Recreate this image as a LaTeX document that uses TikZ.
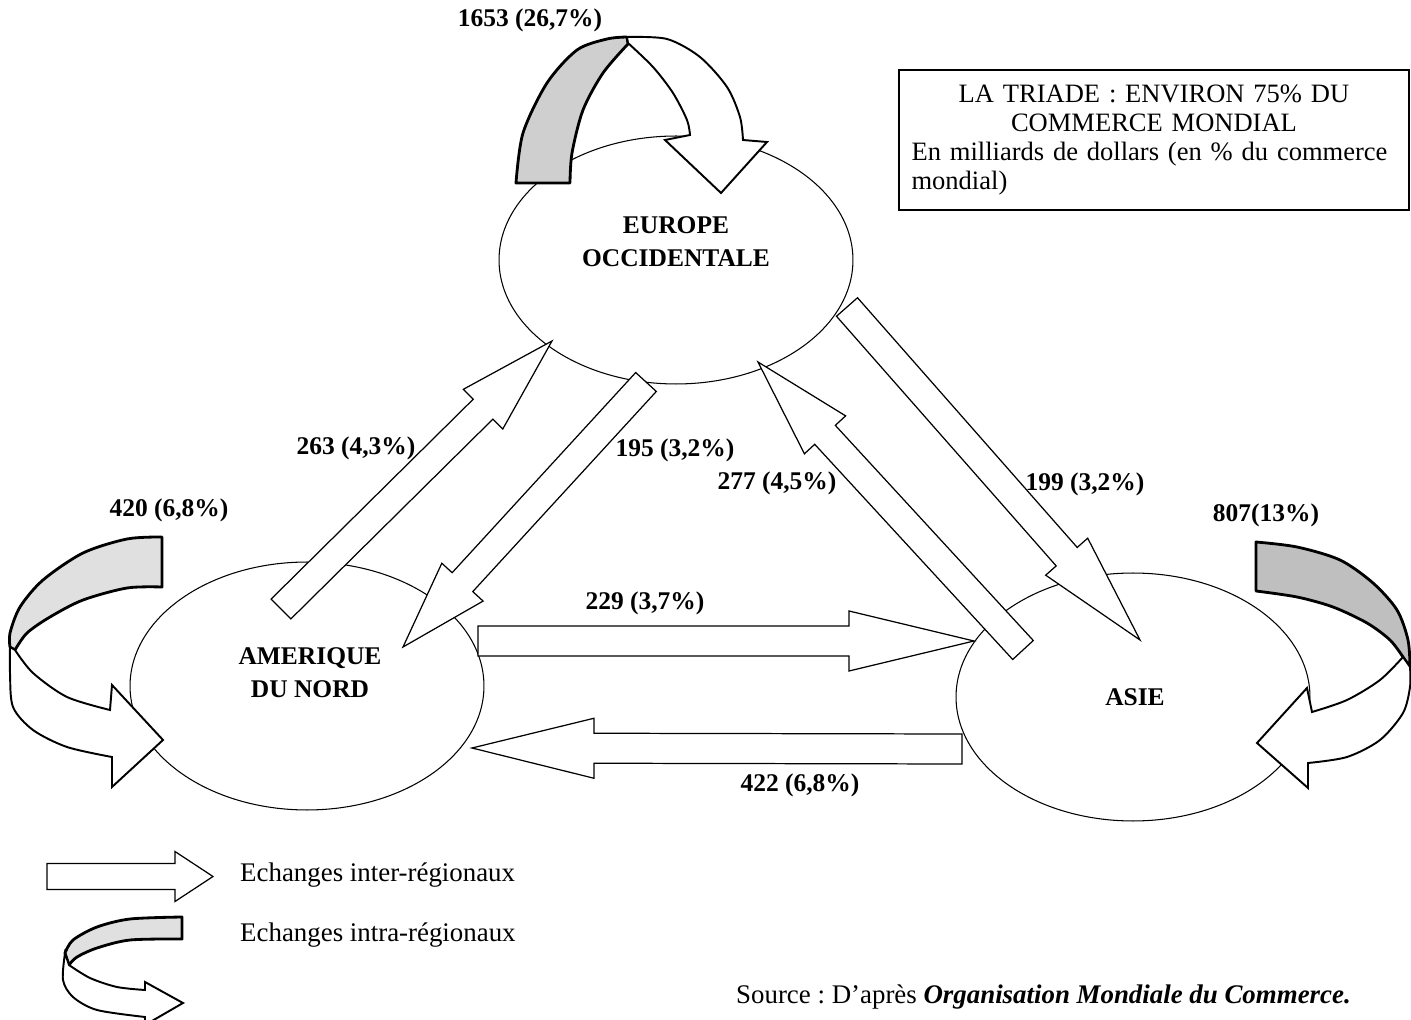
\documentclass[tikz,border=0pt]{standalone}
\usepackage{fontspec}
\setmainfont{Liberation Serif}
\usetikzlibrary{calc,shapes.geometric}
\frenchspacing

\newcommand{\flowarrow}[5]{%
  \coordinate (fa-h) at ($(#2)!#5!(#1)$);
  \draw[flow] ($(#1)!#3!90:(#2)$) -- ($(fa-h)!#3!90:(#2)$) -- ($(fa-h)!#4!90:(#2)$) -- (#2)
    -- ($(fa-h)!#4!-90:(#2)$) -- ($(fa-h)!#3!-90:(#2)$) -- ($(#1)!#3!-90:(#2)$) -- cycle;}

\begin{document}
\begin{tikzpicture}[x=0.02cm,y=-0.02cm,
  region/.style={draw,ellipse,minimum width=7.08cm,minimum height=4.96cm,line width=0.6pt},
  regiontext/.style={font=\bfseries\fontsize{14.5}{18.8}\selectfont,align=center},
  flow/.style={draw,fill=white,line width=0.7pt,line join=miter},
  flux/.style={font=\bfseries\fontsize{14.5}{17}\selectfont},
  back/.style={draw,fill=gray!38,line width=1.6pt,line join=round},
  front/.style={draw,fill=white,line width=1.1pt,line join=miter},
  infobox/.style={draw,line width=0.9pt,minimum width=10.2cm,minimum height=2.8cm,text width=9.7cm,inner xsep=0.25cm,align=left,font=\fontsize{15.1}{16.5}\selectfont},
  legend/.style={anchor=west,font=\fontsize{15.3}{17}\selectfont}
]
\useasboundingbox (0,0) rectangle (1411,1020);

\node[region] (europe) at (676,260) {};
\node[region] (amerique) at (307,686) {};
\node[region] (asie) at (1133,697) {};

\coordinate (an-eu-s) at (281,609);
\coordinate (an-eu-e) at (552,341);
\coordinate (eu-an-s) at (646,382);
\coordinate (eu-an-e) at (403,647);
\coordinate (as-eu-s) at (1023,650);
\coordinate (as-eu-e) at (758,362);
\coordinate (eu-as-s) at (847,307);
\coordinate (eu-as-e) at (1140,640);
\coordinate (an-as-s) at (478,641);
\coordinate (an-as-e) at (974,641);
\coordinate (as-an-s) at (962,749);
\coordinate (as-an-e) at (472,748);
\coordinate (leg-s) at (47,876.5);
\coordinate (leg-e) at (213,876.5);

\flowarrow{an-eu-s}{an-eu-e}{0.28cm}{0.56cm}{1.94cm}
\flowarrow{eu-an-s}{eu-an-e}{0.28cm}{0.56cm}{1.76cm}
\flowarrow{as-eu-s}{as-eu-e}{0.28cm}{0.56cm}{1.98cm}
\flowarrow{eu-as-s}{eu-as-e}{0.28cm}{0.56cm}{2.22cm}
\flowarrow{an-as-s}{an-as-e}{0.3cm}{0.6cm}{2.5cm}
\flowarrow{as-an-s}{as-an-e}{0.3cm}{0.6cm}{2.44cm}
\flowarrow{leg-s}{leg-e}{0.26cm}{0.5cm}{0.76cm}

% boucles intra-regionales
\draw[back] plot[smooth] coordinates {(516,183) (523,133) (547,83) (577,50) (607,39) (627,37)}
  -- plot[smooth] coordinates {(628,44) (603,73) (583,110) (572,153) (570,183)} -- cycle;
\draw[front] plot[smooth] coordinates {(627,37) (667,39) (700,57) (727,87) (740,117) (743,140)}
  -- (767,142) -- (721,193) -- (665,140)
  -- plot[smooth] coordinates {(690,135) (687,120) (673,93) (653,67) (628,43)} -- cycle;

\draw[back,fill=gray!24] plot[smooth] coordinates {(162,537) (127,539) (83,553) (43,580) (20,607) (10,633) (10,647)}
  -- plot[smooth] coordinates {(15,650) (27,633) (50,617) (83,600) (127,588) (162,587)} -- cycle;
\draw[front] plot[smooth] coordinates {(10,647) (10,673) (13,707) (33,730) (67,747) (112,757)}
  -- (112,787) -- (163,740) -- (112,685)
  -- plot[smooth] coordinates {(110,710) (67,697) (33,673) (15,650)} -- cycle;

\draw[back,fill=gray!50] plot[smooth] coordinates {(1256,542) (1297,547) (1340,560) (1373,583) (1397,610) (1408,640) (1410,667)}
  -- plot[smooth] coordinates {(1403,657) (1390,640) (1367,623) (1333,607) (1297,597) (1256,591)} -- cycle;
\draw[front] plot[smooth] coordinates {(1410,667) (1410,687) (1403,713) (1380,740) (1347,757) (1308,763)}
  -- (1308,788) -- (1257,743) -- (1307,688)
  -- plot[smooth] coordinates {(1312,712) (1347,700) (1380,680) (1403,657)} -- cycle;

\draw[back,fill=gray!24] plot[smooth] coordinates {(182,917) (130,919) (97,927) (73,940) (65,953)}
  -- plot[smooth] coordinates {(69,965) (77,957) (97,948) (130,940) (182,939)} -- cycle;
\draw[front] plot[smooth] coordinates {(65,953) (63,980) (73,997) (97,1010) (145,1017)}
  -- (145,1025) -- (183,1003) -- (145,982)
  -- plot[smooth] coordinates {(145,990) (117,987) (90,978) (69,965)} -- cycle;

\node[regiontext] (europe-t) at (676,242) {EUROPE\\OCCIDENTALE};
\node[regiontext] (amerique-t) at (310,673) {AMERIQUE\\DU NORD};
\node[regiontext] (asie-t) at (1135,697) {ASIE};

\node[flux] (f1653) at (530,20) {1653 (26,7\%)};
\node[flux] (f420) at (169,510) {420 (6,8\%)};
\node[flux] (f807) at (1266,515) {807(13\%)};
\node[flux] (f263) at (356,448) {263 (4,3\%)};
\node[flux] (f195) at (675,450) {195 (3,2\%)};
\node[flux] (f277) at (777,483) {277 (4,5\%)};
\node[flux] (f199) at (1085,484) {199 (3,2\%)};
\node[flux] (f229) at (645,603) {229 (3,7\%)};
\node[flux] (f422) at (800,785) {422 (6,8\%)};

\node[infobox] (titre) at (1154,140) {{\centering LA TRIADE : ENVIRON 75\% DU\\COMMERCE MONDIAL\par}\mbox{En milliards de dollars (en \% du commerce}\\mondial)};

\node[legend] (leg-inter) at (234,875) {Echanges inter-régionaux};
\node[legend] (leg-intra) at (234,935) {Echanges intra-régionaux};
\node[legend] (source) at (730,997) {Source : D'après \textbf{\textit{Organisation Mondiale du Commerce.}}};
\end{tikzpicture}
\end{document}
